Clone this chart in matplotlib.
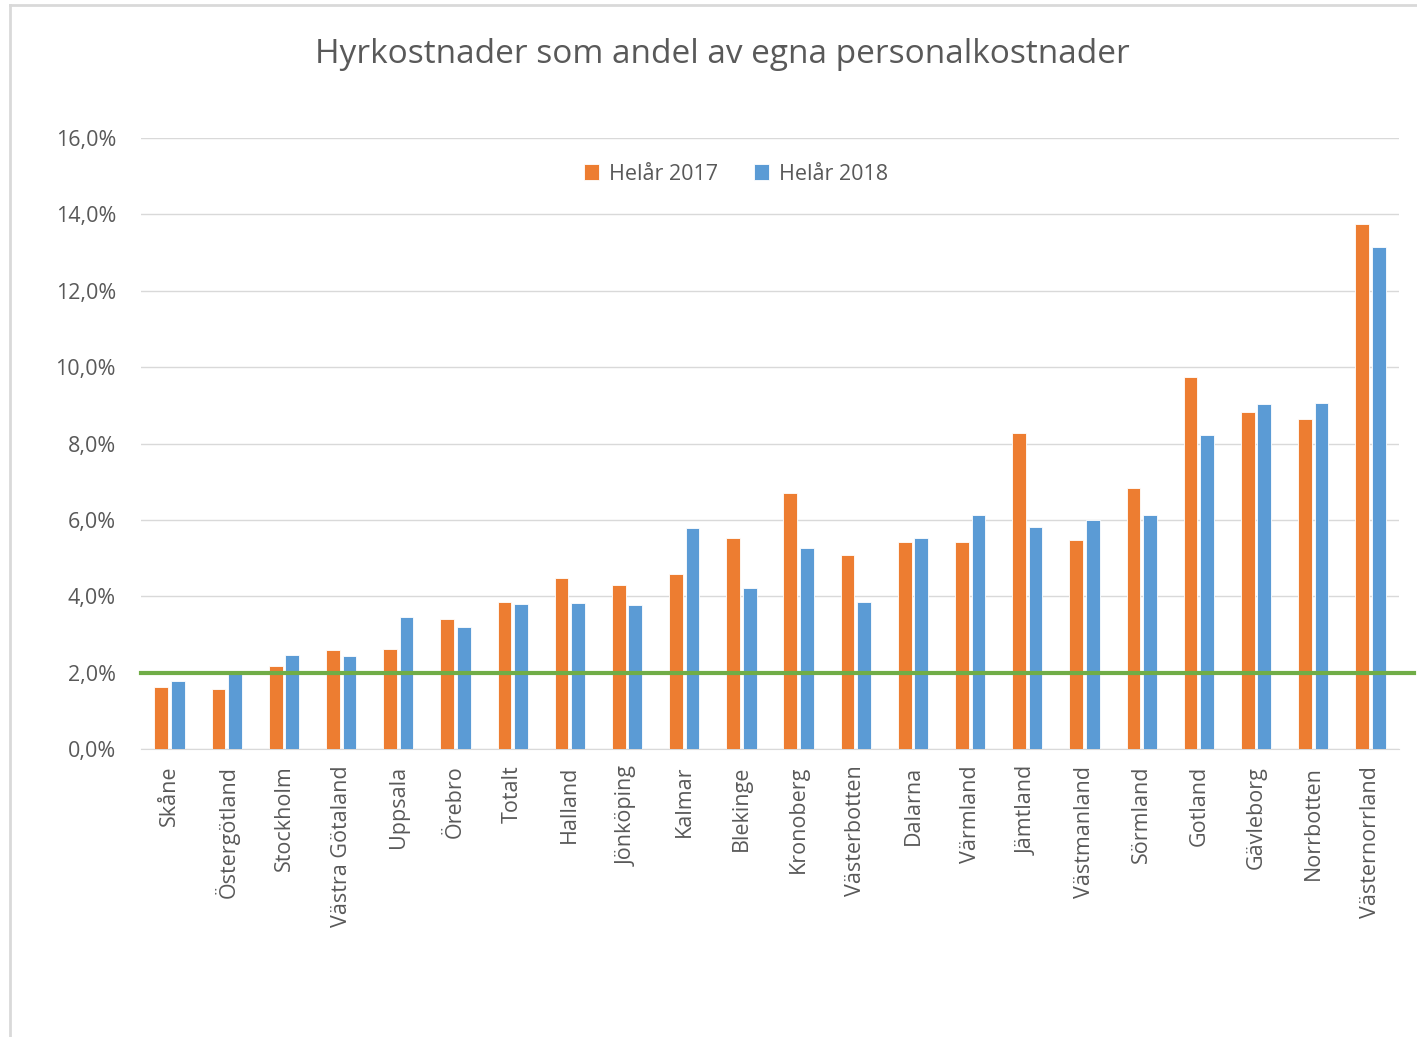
import matplotlib
matplotlib.use("Agg")
import matplotlib.pyplot as plt
import numpy as np
from matplotlib.lines import Line2D

categories = ["Skåne", "Östergötland", "Stockholm", "Västra Götaland", "Uppsala", "Örebro",
              "Totalt", "Halland", "Jönköping", "Kalmar", "Blekinge", "Kronoberg",
              "Västerbotten", "Dalarna", "Värmland", "Jämtland", "Västmanland", "Sörmland",
              "Gotland", "Gävleborg", "Norrbotten", "Västernorrland"]
helar_2017 = [1.62, 1.57, 2.17, 2.59, 2.62, 3.40, 3.85, 4.48, 4.29, 4.58, 5.52, 6.70,
              5.08, 5.42, 5.42, 8.27, 5.47, 6.83, 9.74, 8.82, 8.64, 13.75]
helar_2018 = [1.78, 1.99, 2.46, 2.44, 3.46, 3.19, 3.80, 3.82, 3.77, 5.79, 4.22, 5.26,
              3.85, 5.52, 6.13, 5.81, 6.00, 6.13, 8.22, 9.03, 9.06, 13.14]
target = 2.0
yticks = [0, 2, 4, 6, 8, 10, 12, 14, 16]
ytick_labels = ["0,0%", "2,0%", "4,0%", "6,0%", "8,0%", "10,0%", "12,0%", "14,0%", "16,0%"]

plt.rcParams['font.family'] = ['Open Sans', 'DejaVu Sans']
TXT = "#595959"
fig = plt.figure(figsize=(14.17, 10.37), dpi=100)
ax = fig.add_axes([0.0995, 0.2777, 0.8878, 0.5892])

x = np.arange(len(categories))
w = 0.24
ax.bar(x - 0.145, helar_2017, w, color="#ED7D31", edgecolor="white", linewidth=0.6,
       label="Helår 2017", zorder=3)
ax.bar(x + 0.145, helar_2018, w, color="#5B9BD5", edgecolor="white", linewidth=0.6,
       label="Helår 2018", zorder=3)
ax.axhline(target, xmin=0.0, xmax=1.012, color="#70AD47", linewidth=3, clip_on=False, zorder=4)

ax.set_xlim(-0.5, len(categories) - 0.5)
ax.set_ylim(0, 16)
ax.set_yticks(yticks)
ax.set_yticklabels(ytick_labels)
ax.set_xticks(x)
ax.set_xticklabels(categories, rotation=90)
ax.tick_params(axis='both', length=0, colors=TXT, labelsize=15.5)
ax.tick_params(axis='y', pad=18)
ax.tick_params(axis='x', pad=12)
ax.grid(axis='y', color="#D9D9D9", linewidth=1, zorder=0)
for s in ["top", "right", "left"]:
    ax.spines[s].set_visible(False)
ax.spines["bottom"].set_color("#D9D9D9")

leg = ax.legend(loc="upper center", bbox_to_anchor=(0.473, 0.99), ncol=2, frameon=False,
                fontsize=15.5, handlelength=0.7, handleheight=0.7, columnspacing=1.7,
                handletextpad=0.45)
for t in leg.get_texts():
    t.set_color(TXT)

fig.text(0.51, 0.947, "Hyrkostnader som andel av egna personalkostnader", ha="center",
         va="center", fontsize=24, color=TXT)

fig.add_artist(Line2D([10/1417, 1], [1 - 5/1037, 1 - 5/1037], color="#D9D9D9", linewidth=2))
fig.add_artist(Line2D([10/1417, 10/1417], [0, 1 - 5/1037], color="#D9D9D9", linewidth=2))

fig.savefig("out.png", dpi=100, facecolor="white")
